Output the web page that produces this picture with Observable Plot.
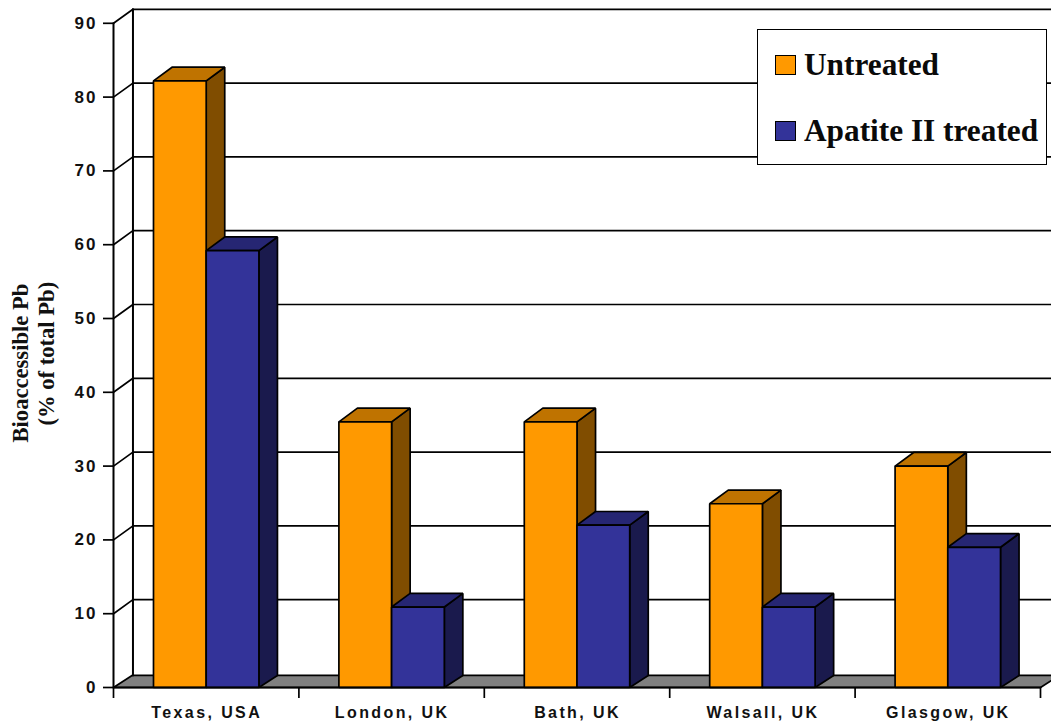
<!DOCTYPE html>
<html>
<head>
<meta charset="utf-8">
<script src="https://cdn.jsdelivr.net/npm/d3@7"></script>
<script src="https://cdn.jsdelivr.net/npm/@observablehq/plot@0.6"></script>
<style>
  html, body { margin: 0; padding: 0; background: #fff; }
  #wrap { position: relative; width: 1051px; height: 724px; overflow: hidden; }
  #wrap svg { display: block; }
  .ytick text { font: bold 17px "Liberation Sans", sans-serif; letter-spacing: 2px; fill: #111; }
  .xlab text { font: bold 16px "Liberation Sans", sans-serif; letter-spacing: 2.4px; fill: #111; }
  .ytitle text { font: bold 22.6px "Liberation Serif", serif; fill: #111; }
  #legend { position: absolute; left: 757px; top: 29px; width: 288px; height: 134px; background: #fff;
            border: 1.5px solid #000; font: bold 31.3px "Liberation Serif", serif; color: #0a0a0a; }
  #legend .row { position: absolute; left: 17px; display: flex; align-items: center; white-space: nowrap; }
  #legend .sw { width: 19px; height: 18px; border: 1.5px solid #000; margin-right: 8px; }
</style>
</head>
<body>
<div id="wrap"></div>
<script>
const categories = ["Texas, USA", "London, UK", "Bath, UK", "Walsall, UK", "Glasgow, UK"];
const untreated = [82.2, 36, 36, 24.9, 30];
const apatite = [59.2, 10.9, 22, 10.9, 19];
const yTicks = [0, 10, 20, 30, 40, 50, 60, 70, 80, 90];
const gridValues = [10, 20, 30, 40, 50, 60, 70, 80, 90];
const seriesNames = ["Untreated", "Apatite II treated"];
const frontColors = ["#FF9900", "#333399"];
const topColors = ["#BF7300", "#262673"];
const sideColors = ["#804D00", "#1A1A4D"];

// Layout in scale units
const barStart = 0.2157, barWidth = 0.2843;
const depthX = 0.1, depthY = 1.63, topDepthY = 1.85, wallX = 0.105, wallY = 1.9;

const line = 1.7;
const poly = (pts, fill) => Plot.line(pts, {
  x: d => d[0], y: d => d[1], fill, stroke: "#000", strokeWidth: line,
  curve: "linear-closed", strokeLinejoin: "miter"
});
const seg = (pts, w = line) => Plot.line(pts, {x: d => d[0], y: d => d[1], stroke: "#000", strokeWidth: w});

const barMarks = [];
categories.forEach((c, i) => {
  [untreated[i], apatite[i]].forEach((v, s) => {
    const x0 = i + barStart + s * barWidth, x1 = x0 + barWidth;
    barMarks.push(
      poly([[x1, 0], [x1 + depthX, depthY], [x1 + depthX, v + topDepthY], [x1, v]], sideColors[s]),
      poly([[x0, v], [x1, v], [x1 + depthX, v + topDepthY], [x0 + depthX, v + topDepthY]], topColors[s]),
      poly([[x0, 0], [x1, 0], [x1, v], [x0, v]], frontColors[s])
    );
  });
});

const chart = Plot.plot({
  width: 1051, height: 724,
  marginLeft: 113, marginRight: 11, marginTop: 22.8, marginBottom: 37,
  style: {background: "#fff", overflow: "hidden"},
  x: {domain: [0, 5], axis: null},
  y: {domain: [0, 90], axis: null},
  marks: [
    // floor
    poly([[0, 0], [5, 0], [5 + depthX, depthY], [depthX, depthY]], "#808080"),
    // back grid lines and their slants to the front axis
    ...gridValues.map(v => seg([[wallX, v + wallY], [5 + wallX, v + wallY]])),
    ...gridValues.map(v => seg([[0, v], [wallX, v + wallY]])),
    // side walls
    seg([[0, 0], [0, 90]], 2),
    seg([[wallX, depthY], [wallX, 90 + wallY]], 2),
    ...barMarks,
    seg([[0, 0], [5, 0]], 2),
    // y axis
    Plot.axisY({ticks: yTicks, tickSize: 10, tickPadding: 6, label: null, anchor: "left",
                strokeWidth: line, className: "ytick"}),
    // x axis ticks and labels
    Plot.axisX({ticks: [0, 1, 2, 3, 4, 5], tickSize: 11, tickFormat: () => "", label: null,
                anchor: "bottom", strokeWidth: line}),
    Plot.text(categories, {x: (d, i) => i + 0.5, y: 0, text: d => d, dy: 25, dx: 0.5, className: "xlab"}),
    // y title
    Plot.text(["Bioaccessible Pb"], {frameAnchor: "left", y: 33.2, dx: -93, rotate: -90, text: d => d, className: "ytitle"}),
    Plot.text(["(% of total Pb)"], {frameAnchor: "left", y: 35.5, dx: -67, rotate: -90, text: d => d, className: "ytitle"})
  ]
});

const wrap = document.getElementById("wrap");
wrap.appendChild(chart);

const legend = document.createElement("div");
legend.id = "legend";
seriesNames.forEach((name, i) => {
  const row = document.createElement("div");
  row.className = "row";
  row.style.top = (i === 0 ? 17 : 83) + "px";
  const sw = document.createElement("span");
  sw.className = "sw";
  sw.style.background = frontColors[i];
  const t = document.createElement("span");
  t.textContent = name;
  row.append(sw, t);
  legend.appendChild(row);
});
wrap.appendChild(legend);
</script>
</body>
</html>
